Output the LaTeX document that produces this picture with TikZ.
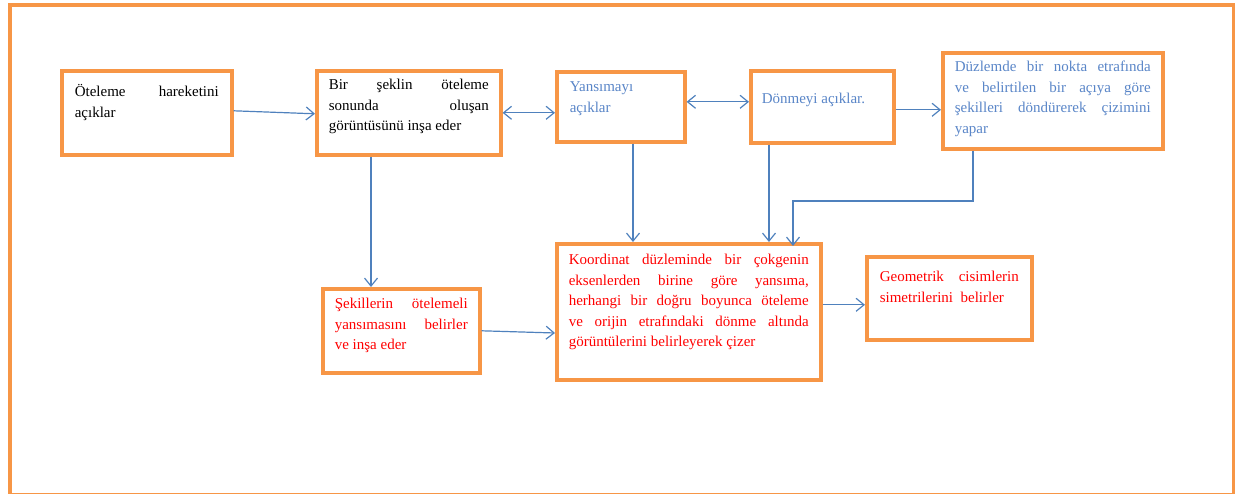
\documentclass[tikz,border=0pt]{standalone}
\usepackage{fontspec}
\setmainfont{Liberation Serif}
\usetikzlibrary{arrows.meta,calc}
\definecolor{frameorange}{HTML}{F79646}
\definecolor{linkblue}{HTML}{4F81BD}
\definecolor{textblue}{HTML}{5A86C8}
\definecolor{textred}{HTML}{FF0000}
\tikzset{
  card/.style={draw=frameorange, line width=3.6pt, fill=white, anchor=north west,
    inner ysep=0pt, align=justify, font=\fontsize{15}{20.5}\selectfont,
    execute at begin node={\tolerance=10000\relax\hyphenpenalty=10000\relax}},
  barb/.tip={Straight Barb[length=8pt,width=13pt]},
  link/.style={draw=linkblue, line width=1.2pt, -barb},
  twoway/.style={draw=linkblue, line width=1.2pt, barb-barb},
}
\begin{document}
\begin{tikzpicture}[x=1pt,y=-1pt]
\useasboundingbox (0,0) rectangle (1235,494);
\clip (0,0) rectangle (1235,494);
% outer frame
\draw[frameorange, line width=3.3pt] (10,5) rectangle (1234,495);

% boxes
\node[card, text width=144pt, inner xsep=13pt, text height=26pt, text depth=58pt]
  (ote) at (60,69) {Öteleme hareketini\linebreak açıklar};
\node[card, text width=160pt, inner xsep=12pt, text height=19pt, text depth=65pt]
  (bir) at (315,69) {Bir şeklin öteleme\linebreak sonunda oluşan\linebreak görüntüsünü inşa eder};
\node[card, text=textblue, text width=102pt, inner xsep=13pt, text height=20pt, text depth=50pt]
  (yan) at (555,70) {Yansımayı\newline açıklar};
\node[card, text=textblue, text width=121pt, inner xsep=11pt, text height=33pt, text depth=39pt]
  (don) at (749,69) {Dönmeyi açıklar.};
\node[card, text=textblue, text width=196pt, inner xsep=12pt, text height=19pt, text depth=77pt]
  (duz) at (941,51) {Düzlemde bir nokta etrafında\linebreak ve belirtilen bir açıya göre\linebreak şekilleri döndürerek çizimini\linebreak yapar};
\node[card, text=textred, text width=133pt, inner xsep=12pt, text height=20pt, text depth=64pt]
  (sek) at (321,287) {Şekillerin ötelemeli\linebreak yansımasını belirler\linebreak ve inşa eder};
\node[card, text=textred, text width=240pt, inner xsep=12pt, text height=21pt, text depth=115pt]
  (kor) at (555,242) {Koordinat düzleminde bir çokgenin\linebreak eksenlerden birine göre yansıma,\linebreak herhangi bir doğru boyunca öteleme\linebreak ve orijin etrafındaki dönme altında\linebreak görüntülerini belirleyerek çizer};
\node[card, text=textred, text width=139pt, inner xsep=13pt, text height=25pt, text depth=58pt]
  (geo) at (865,255) {Geometrik cisimlerin\linebreak simetrilerini\ \ belirler};

% connector anchor points
\coordinate (yd) at ($(yan.east)+(0,-5)$);
\coordinate (dd) at ($(don.east)+(0,3)$);
\coordinate (bd) at ($(bir.south west)+(56,0)$);
\coordinate (yk) at ($(yan.south west)+(78,0)$);
\coordinate (dk) at ($(don.south west)+(20,0)$);
\coordinate (zs) at ($(duz.south west)+(32,0)$);
\coordinate (zb) at ($(kor.north west)+(238,-41)$);
\coordinate (kg) at ($(kor.east)+(0,-7)$);

% connectors
\draw[link] ($(ote.east)+(0,-2)$) -- ($(bir.west)+(0,1)$);
\draw[twoway] (bir.east) -- (bir.east -| yan.west);
\draw[twoway] (yd) -- (yd -| don.west);
\draw[link] (dd) -- (dd -| duz.west);
\draw[link] (bd) -- (bd |- sek.north);
\draw[link] (yk) -- (yk |- kor.north);
\draw[link] (dk) -- (dk |- kor.north);
\draw[link, shorten >=-4pt] (zs) |- (zb) -- (zb |- kor.north);
\draw[link] (sek.east) -- ($(kor.north west)+(0,91)$);
\draw[link] (kg) -- (kg -| geo.west);
\end{tikzpicture}
\end{document}
